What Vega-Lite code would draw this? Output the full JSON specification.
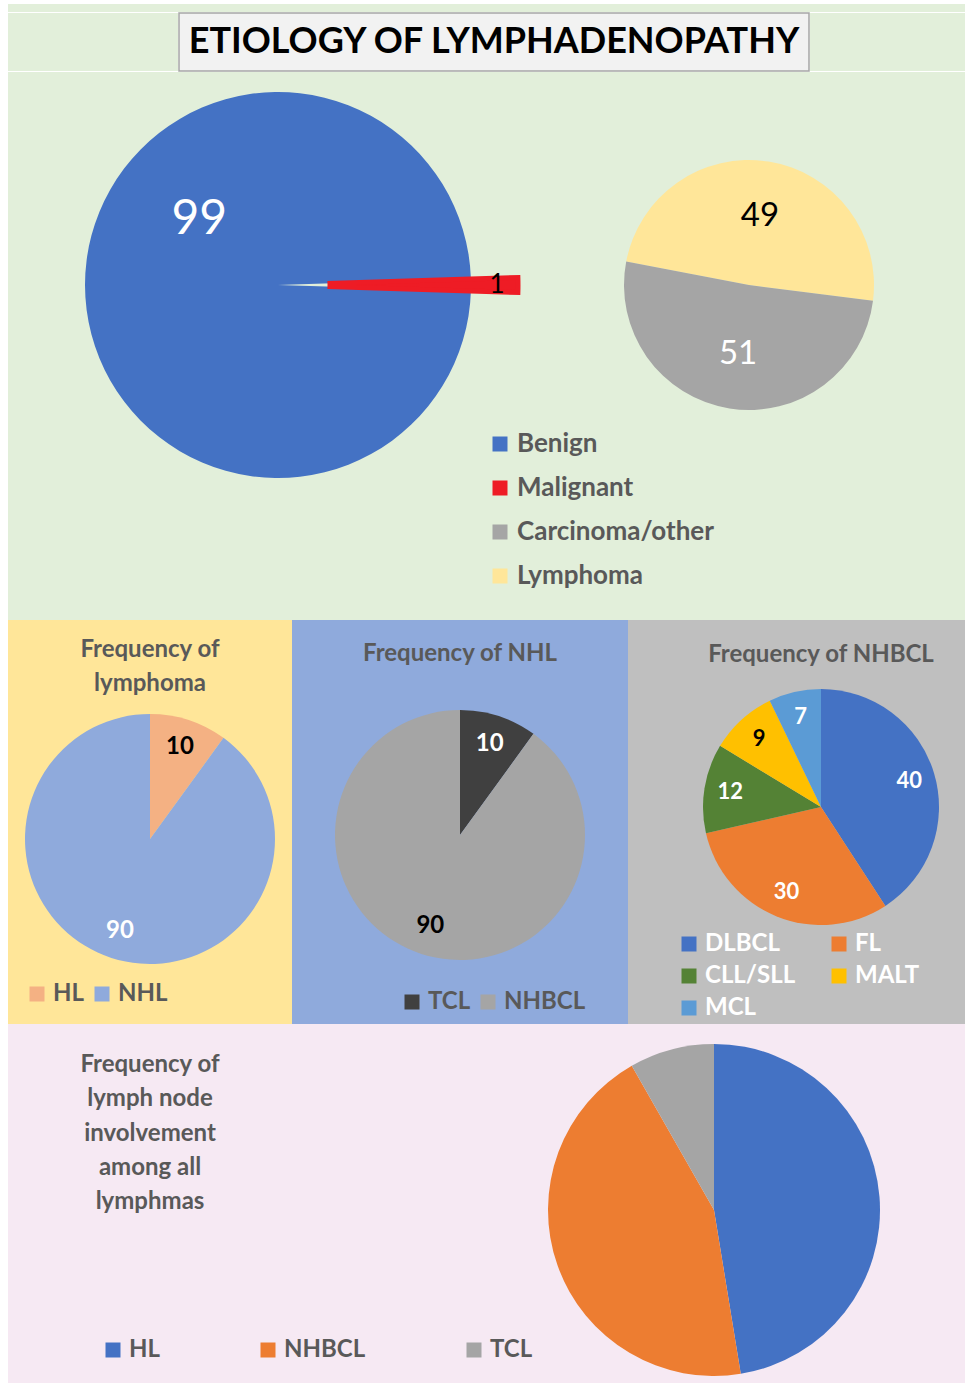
{
"$schema": "https://vega.github.io/schema/vega-lite/v6.json",
"background": "#ffffff",
"padding": {"left": 8, "top": 4, "right": 0, "bottom": 0},
"config": {"view": {"stroke": null}, "concat": {"spacing": 0}, "text": {"font": "Lato"}},
"spacing": 0,
"resolve": {"scale": {"color": "independent", "theta": "independent"}, "legend": {"color": "independent"}},
"vconcat": [
 {"spacing": 0, "resolve": {"scale": {"color": "shared", "theta": "independent"}, "legend": {"color": "shared"}},
  "vconcat": [
   {"width": 957, "height": 8, "view": {"fill": "#e2efda"}, "data": {"values": [{}]}, "mark": {"type": "point", "size": 0, "opacity": 0}},
   {"spacing": 0, "resolve": {"scale": {"theta": "independent"}},
    "hconcat": [
     {"width": 170, "height": 58, "view": {"fill": "#e2efda"}, "data": {"values": [{}]}, "mark": {"type": "point", "size": 0, "opacity": 0}},
     {"width": 630, "height": 58, "view": {"fill": "#f2f2f2", "stroke": "#a6a6a6", "strokeWidth": 1.5},
      "data": {"values": [{"t": "ETIOLOGY OF LYMPHADENOPATHY"}]},
      "mark": {"type": "text", "font": "Lato", "fontWeight": "bold", "fontSize": 36, "color": "#000000", "align": "center", "baseline": "middle"},
      "encoding": {"text": {"field": "t", "type": "nominal"}}},
     {"width": 157, "height": 58, "view": {"fill": "#e2efda"}, "data": {"values": [{}]}, "mark": {"type": "point", "size": 0, "opacity": 0}}
    ]},
   {"spacing": 0, "resolve": {"scale": {"color": "shared", "theta": "independent"}, "legend": {"color": "shared"}},
    "hconcat": [
     {"width": 540, "height": 426, "view": {"fill": "#e2efda"},
      "data": {"values": [{"cat": "Benign", "v": 99}, {"cat": "Malignant", "v": 1}]},
      "resolve": {"scale": {"theta": "independent"}},
      "layer": [
       {"transform": [{"filter": "datum.cat === 'Benign'"}],
        "mark": {"type": "arc", "radius": 193},
        "encoding": {"theta": {"field": "v", "type": "quantitative", "stack": true, "scale": {"domain": [0, 100], "range": [1.602, 7.885]}},
                     "color": {"field": "cat", "type": "nominal", "scale": {"domain": ["Benign", "Malignant", "Carcinoma/other", "Lymphoma"], "range": ["#4472c4", "#ee1c25", "#a5a5a5", "#ffe699"]},
                       "legend": {"orient": "none", "legendX": 479, "legendY": 427, "direction": "vertical", "title": null, "symbolType": "square", "symbolSize": 225, "symbolOpacity": 1, "symbolStrokeWidth": 0, "labelFont": "Lato", "labelFontWeight": "bold", "labelFontSize": 26, "labelColor": "#595959", "labelOffset": 4, "labelLimit": 400, "rowPadding": 18, "padding": 0}}}},
       {"transform": [{"filter": "datum.cat === 'Malignant'"}],
        "mark": {"type": "arc", "radius": 240, "radius2": 52, "stroke": "#ee1c25", "strokeWidth": 5},
        "encoding": {"theta": {"field": "v", "type": "quantitative", "stack": true, "scale": {"domain": [0, 100], "range": [1.5394, 7.8226]}},
                     "color": {"field": "cat", "type": "nominal", "scale": {"domain": ["Benign", "Malignant", "Carcinoma/other", "Lymphoma"], "range": ["#4472c4", "#ee1c25", "#a5a5a5", "#ffe699"]}}}},
       {"transform": [{"filter": "datum.cat === 'Benign'"}],
        "mark": {"type": "text", "radius": 102, "font": "Lato", "fontSize": 48, "color": "#ffffff"},
        "encoding": {"theta": {"field": "v", "type": "quantitative", "stack": true, "scale": {"domain": [0, 100], "range": [2.292, 8.575]}},
                     "text": {"field": "v", "type": "quantitative"}}},
       {"transform": [{"filter": "datum.cat === 'Malignant'"}],
        "mark": {"type": "text", "radius": 219, "font": "Lato", "fontSize": 26, "color": "#000000"},
        "encoding": {"theta": {"field": "v", "type": "quantitative", "stack": true, "scale": {"domain": [0, 100], "range": [1.5394, 7.8226]}},
                     "text": {"field": "v", "type": "quantitative"}}}
      ]},
     {"width": 402, "height": 426, "view": {"fill": "#e2efda"},
      "data": {"values": [{"cat": "Lymphoma", "v": 49}, {"cat": "Carcinoma/other", "v": 51}]},
      "encoding": {"theta": {"field": "v", "type": "quantitative", "stack": true, "scale": {"range": [4.901, 11.184]}},
                   "order": {"field": "v", "type": "quantitative", "sort": "ascending"},
                   "color": {"field": "cat", "type": "nominal", "scale": {"domain": ["Benign", "Malignant", "Carcinoma/other", "Lymphoma"], "range": ["#4472c4", "#ee1c25", "#a5a5a5", "#ffe699"]}}},
      "layer": [
       {"mark": {"type": "arc", "radius": 125}},
       {"mark": {"type": "text", "radius": 70, "font": "Lato", "fontSize": 33},
        "encoding": {"text": {"field": "v", "type": "quantitative"}, "color": {"condition": {"test": "datum.cat === 'Lymphoma'", "value": "#000000"}, "value": "#ffffff"}}}
      ]},
     {"width": 15, "height": 426, "view": {"fill": "#e2efda"}, "data": {"values": [{}]}, "mark": {"type": "point", "size": 0, "opacity": 0}}
    ]},
   {"width": 957, "height": 122, "view": {"fill": "#e2efda"}, "data": {"values": [{}]}, "mark": {"type": "point", "size": 0, "opacity": 0}}
  ]},
 {"spacing": 0, "resolve": {"scale": {"color": "independent", "theta": "independent"}, "legend": {"color": "independent"}},
  "hconcat": [
   {"spacing": 0, "resolve": {"scale": {"color": "independent", "theta": "independent"}, "legend": {"color": "independent"}},
    "vconcat": [
     {"width": 284, "height": 94, "view": {"fill": "#ffe699"},
      "data": {"values": [{"t": "Frequency of", "line": 1}, {"t": "lymphoma", "line": 2}]},
      "mark": {"type": "text", "font": "Lato", "fontWeight": "bold", "fontSize": 24, "color": "#595959", "align": "center", "baseline": "middle"},
      "encoding": {"y": {"field": "line", "type": "quantitative", "axis": null, "scale": {"domain": [0.118, 2.883], "reverse": true, "zero": false, "nice": false}}, "text": {"field": "t", "type": "nominal"}}},
     {"width": 284, "height": 250, "view": {"fill": "#ffe699"},
      "data": {"values": [{"cat": "HL", "v": 10}, {"cat": "NHL", "v": 90}]},
      "encoding": {"theta": {"field": "v", "type": "quantitative", "stack": true},
                   "order": {"field": "v", "type": "quantitative", "sort": "ascending"},
                   "color": {"field": "cat", "type": "nominal", "scale": {"domain": ["HL", "NHL"], "range": ["#f4b183", "#8faadc"]}, "legend": null}},
      "layer": [
       {"mark": {"type": "arc", "radius": 125}},
       {"mark": {"type": "text", "radius": 97, "font": "Lato", "fontWeight": "bold", "fontSize": 24},
        "encoding": {"text": {"field": "v", "type": "quantitative"}, "color": {"condition": {"test": "datum.cat === 'HL'", "value": "#000000"}, "value": "#ffffff"}}}
      ]},
     {"width": 284, "height": 60, "view": {"fill": "#ffe699"},
      "data": {"values": [{"cat": "HL"}, {"cat": "NHL"}]},
      "mark": {"type": "square", "opacity": 0},
      "encoding": {"color": {"field": "cat", "type": "nominal",
        "scale": {"domain": ["HL", "NHL"], "range": ["#f4b183", "#8faadc"]},
        "legend": {"orient": "none", "legendX": 17, "legendY": 18, "direction": "horizontal", "columns": 2, "columnPadding": 6, "title": null, "symbolType": "square", "symbolSize": 225, "symbolOpacity": 1, "symbolStrokeWidth": 0, "labelFont": "Lato", "labelFontWeight": "bold", "labelFontSize": 24, "labelColor": "#595959", "labelOffset": 4, "labelLimit": 400, "padding": 0}}}}
    ]},
   {"spacing": 0, "resolve": {"scale": {"color": "independent", "theta": "independent"}, "legend": {"color": "independent"}},
    "vconcat": [
     {"width": 336, "height": 68, "view": {"fill": "#8faadc"},
      "data": {"values": [{"t": "Frequency of NHL"}]},
      "mark": {"type": "text", "font": "Lato", "fontWeight": "bold", "fontSize": 24, "color": "#595959", "align": "center", "baseline": "middle"},
      "encoding": {"text": {"field": "t", "type": "nominal"}}},
     {"width": 336, "height": 294, "view": {"fill": "#8faadc"},
      "data": {"values": [{"cat": "TCL", "v": 10}, {"cat": "NHBCL", "v": 90}]},
      "encoding": {"theta": {"field": "v", "type": "quantitative", "stack": true},
                   "order": {"field": "v", "type": "quantitative", "sort": "ascending"},
                   "color": {"field": "cat", "type": "nominal", "scale": {"domain": ["TCL", "NHBCL"], "range": ["#404040", "#a5a5a5"]}, "legend": null}},
      "layer": [
       {"mark": {"type": "arc", "radius": 125}},
       {"mark": {"type": "text", "radius": 96, "font": "Lato", "fontWeight": "bold", "fontSize": 24},
        "encoding": {"text": {"field": "v", "type": "quantitative"}, "color": {"condition": {"test": "datum.cat === 'TCL'", "value": "#ffffff"}, "value": "#000000"}}}
      ]},
     {"width": 336, "height": 42, "view": {"fill": "#8faadc"},
      "data": {"values": [{"cat": "TCL"}, {"cat": "NHBCL"}]},
      "mark": {"type": "square", "opacity": 0},
      "encoding": {"color": {"field": "cat", "type": "nominal",
        "scale": {"domain": ["TCL", "NHBCL"], "range": ["#404040", "#a5a5a5"]},
        "legend": {"orient": "none", "legendX": 108, "legendY": 8, "direction": "horizontal", "columns": 2, "columnPadding": 5, "title": null, "symbolType": "square", "symbolSize": 225, "symbolOpacity": 1, "symbolStrokeWidth": 0, "labelFont": "Lato", "labelFontWeight": "bold", "labelFontSize": 24, "labelColor": "#595959", "labelOffset": 4, "labelLimit": 400, "padding": 0}}}}
    ]},
   {"width": 49, "height": 404, "view": {"fill": "#bfbfbf"}, "data": {"values": [{}]}, "mark": {"type": "point", "size": 0, "opacity": 0}},
   {"spacing": 0, "resolve": {"scale": {"color": "independent", "theta": "independent"}, "legend": {"color": "independent"}},
    "vconcat": [
     {"width": 288, "height": 69, "view": {"fill": "#bfbfbf"},
      "data": {"values": [{"t": "Frequency of NHBCL"}]},
      "mark": {"type": "text", "font": "Lato", "fontWeight": "bold", "fontSize": 24, "color": "#595959", "align": "center", "baseline": "middle"},
      "encoding": {"text": {"field": "t", "type": "nominal"}}},
     {"width": 288, "height": 236, "view": {"fill": "#bfbfbf"},
      "data": {"values": [{"cat": "DLBCL", "v": 40}, {"cat": "FL", "v": 30}, {"cat": "CLL/SLL", "v": 12}, {"cat": "MALT", "v": 9}, {"cat": "MCL", "v": 7}]},
      "encoding": {"theta": {"field": "v", "type": "quantitative", "stack": true},
                   "order": {"field": "v", "type": "quantitative", "sort": "descending"},
                   "color": {"field": "cat", "type": "nominal", "scale": {"domain": ["DLBCL", "FL", "CLL/SLL", "MALT", "MCL"], "range": ["#4472c4", "#ed7d31", "#548235", "#ffc000", "#5b9bd5"]}, "legend": null}},
      "layer": [
       {"mark": {"type": "arc", "radius": 118}},
       {"mark": {"type": "text", "radius": 92, "font": "Lato", "fontWeight": "bold", "fontSize": 22},
        "encoding": {"text": {"field": "v", "type": "quantitative"}, "color": {"condition": {"test": "datum.cat === 'MALT'", "value": "#000000"}, "value": "#ffffff"}}}
      ]},
     {"width": 288, "height": 99, "view": {"fill": "#bfbfbf"},
      "data": {"values": [{"cat": "DLBCL"}, {"cat": "FL"}, {"cat": "CLL/SLL"}, {"cat": "MALT"}, {"cat": "MCL"}]},
      "mark": {"type": "square", "opacity": 0},
      "encoding": {"color": {"field": "cat", "type": "nominal",
        "scale": {"domain": ["DLBCL", "FL", "CLL/SLL", "MALT", "MCL"], "range": ["#4472c4", "#ed7d31", "#548235", "#ffc000", "#5b9bd5"]},
        "legend": {"orient": "none", "legendX": 0, "legendY": 7, "direction": "horizontal", "columns": 2, "columnPadding": 31, "rowPadding": 8, "title": null, "symbolType": "square", "symbolSize": 225, "symbolOpacity": 1, "symbolStrokeWidth": 0, "labelFont": "Lato", "labelFontWeight": "bold", "labelFontSize": 24, "labelColor": "#ffffff", "labelOffset": 4, "labelLimit": 400, "padding": 0}}}}
    ]}
  ]},
 {"spacing": 0, "resolve": {"scale": {"color": "independent", "theta": "independent"}, "legend": {"color": "independent"}},
  "hconcat": [
   {"spacing": 0, "resolve": {"scale": {"color": "independent", "theta": "independent"}, "legend": {"color": "independent"}},
    "vconcat": [
     {"spacing": 0, "resolve": {"scale": {"color": "independent", "theta": "independent"}, "legend": {"color": "independent"}},
      "hconcat": [
       {"width": 284, "height": 219, "view": {"fill": "#f6e9f3"},
        "data": {"values": [{"t": "Frequency of", "line": 1}, {"t": "lymph node", "line": 2}, {"t": "involvement", "line": 3}, {"t": "among all", "line": 4}, {"t": "lymphmas", "line": 5}]},
        "mark": {"type": "text", "font": "Lato", "fontWeight": "bold", "fontSize": 24, "color": "#595959", "align": "center", "baseline": "middle"},
        "encoding": {"y": {"field": "line", "type": "quantitative", "axis": null, "scale": {"domain": [-0.197, 6.197], "reverse": true, "zero": false, "nice": false}}, "text": {"field": "t", "type": "nominal"}}},
       {"width": 256, "height": 219, "view": {"fill": "#f6e9f3"}, "data": {"values": [{}]}, "mark": {"type": "point", "size": 0, "opacity": 0}}
      ]},
     {"width": 540, "height": 142, "view": {"fill": "#f6e9f3"},
      "data": {"values": [{"cat": "HL"}, {"cat": "NHBCL"}, {"cat": "TCL"}]},
      "mark": {"type": "square", "opacity": 0},
      "encoding": {"color": {"field": "cat", "type": "nominal",
        "scale": {"domain": ["HL", "NHBCL", "TCL"], "range": ["#4472c4", "#ed7d31", "#a5a5a5"]},
        "legend": {"orient": "none", "legendX": 93, "legendY": 95, "direction": "horizontal", "columns": 3, "columnPadding": 96, "title": null, "symbolType": "square", "symbolSize": 225, "symbolOpacity": 1, "symbolStrokeWidth": 0, "labelFont": "Lato", "labelFontWeight": "bold", "labelFontSize": 24, "labelColor": "#595959", "labelOffset": 4, "labelLimit": 400, "padding": 0}}}}
    ]},
   {"spacing": 0, "resolve": {"scale": {"color": "independent", "theta": "independent"}, "legend": {"color": "independent"}},
    "vconcat": [
     {"width": 332, "height": 20, "view": {"fill": "#f6e9f3"}, "data": {"values": [{}]}, "mark": {"type": "point", "size": 0, "opacity": 0}},
     {"width": 332, "height": 332, "view": {"fill": "#f6e9f3"},
      "data": {"values": [{"cat": "HL", "v": 46}, {"cat": "NHBCL", "v": 43}, {"cat": "TCL", "v": 8}]},
      "encoding": {"theta": {"field": "v", "type": "quantitative", "stack": true},
                   "order": {"field": "v", "type": "quantitative", "sort": "descending"},
                   "color": {"field": "cat", "type": "nominal", "scale": {"domain": ["HL", "NHBCL", "TCL"], "range": ["#4472c4", "#ed7d31", "#a5a5a5"]}, "legend": null}},
      "layer": [
       {"mark": {"type": "arc", "radius": 166}},
       {"mark": {"type": "text", "radius": 132, "font": "Lato", "fontWeight": "bold", "fontSize": 24, "color": "#ffffff"},
        "encoding": {"text": {"field": "v", "type": "quantitative"}}}
      ]},
     {"width": 332, "height": 9, "view": {"fill": "#f6e9f3"}, "data": {"values": [{}]}, "mark": {"type": "point", "size": 0, "opacity": 0}}
    ]},
   {"width": 85, "height": 361, "view": {"fill": "#f6e9f3"}, "data": {"values": [{}]}, "mark": {"type": "point", "size": 0, "opacity": 0}}
  ]}
]
}
